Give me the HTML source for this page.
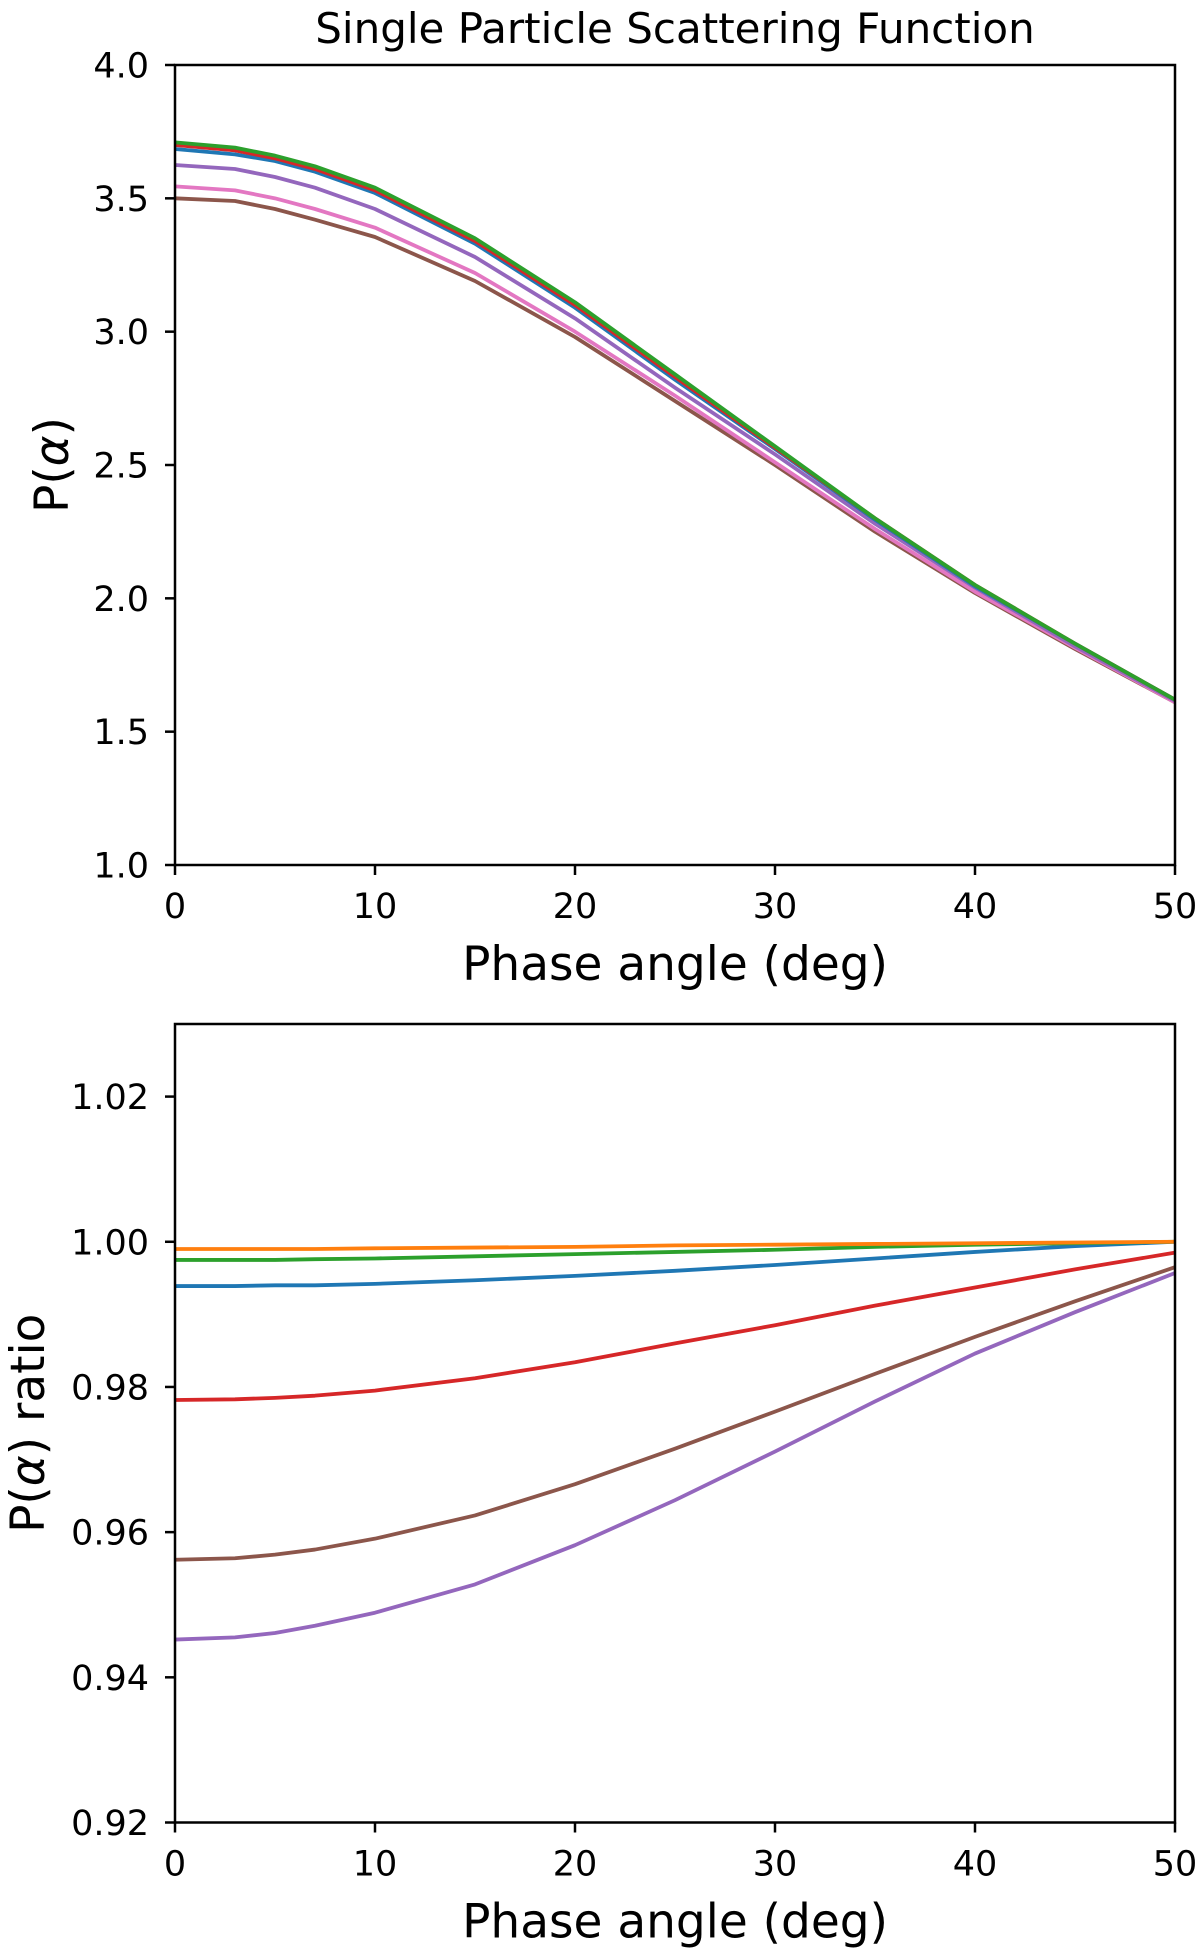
<!DOCTYPE html>
<html><head><meta charset="utf-8"><style>
html,body{margin:0;padding:0;background:#fff;}
svg{display:block;font-family:"DejaVu Sans","Liberation Sans",sans-serif;}
</style></head><body>
<svg id="fig" width="1200" height="1952" viewBox="0 0 1200 1952" xmlns="http://www.w3.org/2000/svg">
<text x="675" y="43" font-size="42" text-anchor="middle">Single Particle Scattering Function</text>
<g id="top"></g>
<g id="bot"></g>
</svg>
<script>
const xs = [0,3,5,7,10,15,20,25,30,35,40,45,50];
const xTicks = [0,10,20,30,40,50];
const topYTicks = ["1.0","1.5","2.0","2.5","3.0","3.5","4.0"];
const botYTicks = ["0.92","0.94","0.96","0.98","1.00","1.02"];
const topNames = ["brown","pink","purple","blue","red","green"];
const topColors = ["#8c564b","#e377c2","#9467bd","#1f77b4","#d62728","#2ca02c"];
const topBrown = [3.50,3.49,3.46,3.42,3.355,3.19,2.98,2.74,2.50,2.25,2.02,1.81,1.61];
const topPink = [3.545,3.53,3.50,3.46,3.39,3.22,3.00,2.76,2.51,2.26,2.025,1.815,1.61];
const topPurple = [3.625,3.61,3.58,3.54,3.46,3.28,3.05,2.79,2.54,2.28,2.04,1.82,1.615];
const topBlue = [3.685,3.665,3.64,3.60,3.52,3.33,3.09,2.82,2.56,2.295,2.045,1.83,1.62];
const topRed = [3.70,3.68,3.65,3.61,3.53,3.34,3.10,2.83,2.565,2.30,2.05,1.83,1.62];
const topGreen = [3.71,3.69,3.66,3.62,3.54,3.35,3.11,2.84,2.57,2.30,2.05,1.83,1.62];
const botNames = ["purple","brown","red","blue","green","orange"];
const botColors = ["#9467bd","#8c564b","#d62728","#1f77b4","#2ca02c","#ff7f0e"];
const botPurple = [.9452,.9455,.9461,.9471,.9489,.9528,.9582,.9644,.9711,.978,.9846,.9903,.9957];
const botBrown = [.9562,.9564,.9569,.9576,.9591,.9623,.9666,.9715,.9766,.9818,.9869,.9918,.9965];
const botRed = [.9782,.9783,.9785,.9788,.9795,.9812,.9834,.986,.9885,.9912,.9937,.9962,.9985];
const botBlue = [.9939,.9939,.994,.994,.9942,.9947,.9953,.996,.9968,.9977,.9986,.9994,1.0];
const botGreen = [.9975,.9975,.9975,.9976,.9977,.998,.9983,.9986,.9989,.9993,.9996,.9998,1.0];
const botOrange = [.999,.999,.999,.999,.9991,.9992,.9993,.9995,.9996,.9997,.9998,.9999,1.0];

const NS="http://www.w3.org/2000/svg";
function mk(tag, parent, attrs){const e=document.createElementNS(NS,tag);for(const k in attrs)e.setAttribute(k,attrs[k]);parent.appendChild(e);return e;}

function panel(g, top, bottom, ymin, ymax, yTicks, series, colors, names, ylabel, ylabelX, prefix){
  const L=175,R=1175;
  const sx=v=>L+(v-0)/(50-0)*(R-L);
  const sy=v=>bottom-(v-ymin)/(ymax-ymin)*(bottom-top);
  series.forEach((s,i)=>{
    const p=mk('polyline',g,{points:s.map((v,j)=>sx(xs[j])+','+sy(v)).join(' '),fill:'none',stroke:colors[i],'stroke-width':3.8,'stroke-linejoin':'round'});
    
    
  });
  const fr=mk('rect',g,{x:L,y:top,width:R-L,height:bottom-top,fill:'none',stroke:'#000','stroke-width':2.5});
  
  
  xTicks.forEach(t=>{
    mk('line',g,{x1:sx(t),x2:sx(t),y1:bottom,y2:bottom+10,stroke:'#000','stroke-width':2.5});
    const tx=mk('text',g,{x:sx(t),y:bottom+53,'font-size':35,'text-anchor':'middle'});
    tx.textContent=t;
    
    
  });
  yTicks.forEach(t=>{
    const y=sy(parseFloat(t));
    mk('line',g,{x1:L-10,x2:L,y1:y,y2:y,stroke:'#000','stroke-width':2.5});
    const tx=mk('text',g,{x:L-26,y:y+12.5,'font-size':35,'text-anchor':'end'});
    tx.textContent=t;
    
    
  });
  const xl=mk('text',g,{x:675,y:bottom+115,'font-size':47,'text-anchor':'middle'});
  xl.textContent='Phase angle (deg)';
  
  
  const cy=(top+bottom)/2;
  const yl=mk('text',g,{x:ylabelX,y:cy,'font-size':47,'text-anchor':'middle',transform:'rotate(-90 '+ylabelX+' '+cy+')'});
  yl.innerHTML=ylabel;
  
  
}
panel(document.getElementById('top'),65,865,1.0,4.0,topYTicks,
  [topBrown,topPink,topPurple,topBlue,topRed,topGreen],topColors,topNames,
  'P(<tspan font-style="italic">α</tspan>)',68,'top');
panel(document.getElementById('bot'),1024,1822.5,0.92,1.03,botYTicks,
  [botPurple,botBrown,botRed,botBlue,botGreen,botOrange],botColors,botNames,
  'P(<tspan font-style="italic">α</tspan>) ratio',44,'bottom');
</script>
</body></html>
